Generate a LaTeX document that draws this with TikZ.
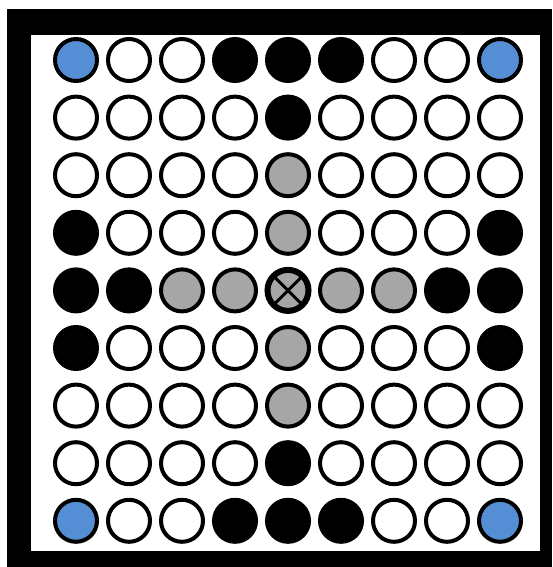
\documentclass[tikz,border=0pt]{standalone}
\usetikzlibrary{calc}
\definecolor{cwhite}{HTML}{FFFFFF}
\definecolor{cblack}{HTML}{000000}
\definecolor{cblue}{HTML}{558ED5}
\definecolor{cgray}{HTML}{A6A6A6}
\begin{document}
\begin{tikzpicture}[x=1pt,y=-1pt,
  cell/.style={circle,draw=black,line width=4pt,minimum size=42pt,inner sep=0pt}]
\useasboundingbox (0,0) rectangle (552,567);
% frame
\fill[black] (7,9) rectangle (552,567);
\fill[white] (31,35) rectangle (540,551);
\foreach \row [count=\r] in {
  {cblue,cwhite,cwhite,cblack,cblack,cblack,cwhite,cwhite,cblue},
  {cwhite,cwhite,cwhite,cwhite,cblack,cwhite,cwhite,cwhite,cwhite},
  {cwhite,cwhite,cwhite,cwhite,cgray,cwhite,cwhite,cwhite,cwhite},
  {cblack,cwhite,cwhite,cwhite,cgray,cwhite,cwhite,cwhite,cblack},
  {cblack,cblack,cgray,cgray,cgray,cgray,cgray,cblack,cblack},
  {cblack,cwhite,cwhite,cwhite,cgray,cwhite,cwhite,cwhite,cblack},
  {cwhite,cwhite,cwhite,cwhite,cgray,cwhite,cwhite,cwhite,cwhite},
  {cwhite,cwhite,cwhite,cwhite,cblack,cwhite,cwhite,cwhite,cwhite},
  {cblue,cwhite,cwhite,cblack,cblack,cblack,cwhite,cwhite,cblue}}{
  \foreach \t [count=\c] in \row {
    \node[cell,fill=\t] (n-\r-\c) at ({76+(\c-1)*53},{60+(\r-1)*57.6}) {};
  }
}
% crossed centre cell
\draw[line width=6pt] (n-5-5.center) circle (20.5pt);
\draw[line width=3pt] (n-5-5.45) -- (n-5-5.225);
\draw[line width=3pt] (n-5-5.135) -- (n-5-5.315);
\end{tikzpicture}
\end{document}
